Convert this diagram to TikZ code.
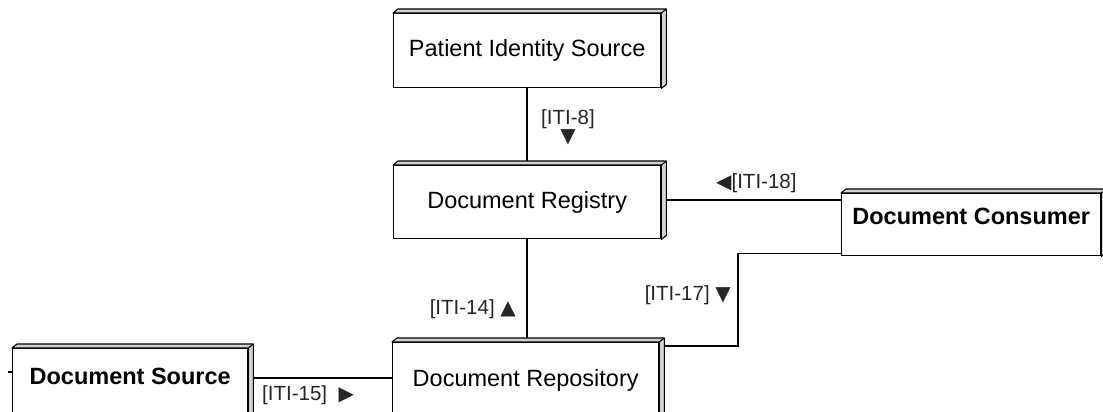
\documentclass[tikz,border=0pt]{standalone}
\usepackage{fontspec}
\setmainfont{Liberation Sans}
\newfontfamily\shapefont{DejaVu Sans}
\usetikzlibrary{calc}

% small direction marks set beside the transaction labels
\newcommand\dirmark[1]{{\shapefont\fontsize{20}{20}\selectfont #1}}
% shaded top and right faces that give each actor box its depth
\newcommand\boxdepth[1]{%
  \filldraw[face] (#1.north west) -- ++(5,-4) -- ($(#1.north east)+(5,-4)$)
    -- ($(#1.south east)+(5,-4)$) -- (#1.south east) -- (#1.north east) -- cycle;
  \draw[face] (#1.north east) -- ++(5,-4);
}

\begin{document}
\begin{tikzpicture}[x=1pt, y=-1pt,
  actor/.style={draw, line width=1.4pt, fill=white, inner sep=0pt,
    anchor=north west, font=\fontsize{23.5}{28}\selectfont},
  face/.style={line width=1.1pt, fill=gray!35, line join=round},
  link/.style={line width=1.5pt},
  tag/.style={inner sep=0pt, text=black!85, font=\fontsize{20.5}{24}\selectfont}]

\useasboundingbox (0,0) rectangle (1103,412);
\clip (0,0) rectangle (1103,412);

% actors
\node[actor, minimum width=267pt, minimum height=74pt] (pis) at (393,13)
  {Patient Identity Source};
\node[actor, minimum width=267pt, minimum height=73pt] (reg) at (393,165)
  {Document Registry};
\node[actor, font=\fontsize{23.5}{28}\selectfont\bfseries, minimum width=259pt,
  text height=30.5pt, text depth=31.5pt] (cons) at (841,193)
  {Document Consumer};
\node[actor, font=\fontsize{23.5}{28}\selectfont\bfseries, minimum width=235pt,
  text height=35.5pt, text depth=46.5pt] (src) at (12,348)
  {Document Source};
\node[actor, minimum width=266pt, text height=43.5pt, text depth=44pt] (repo) at (392,342)
  {Document Repository};

% connector end points on the box faces
\coordinate (r18) at ($(reg.east)+(5,-2)$);
\coordinate (c17) at ($(cons.south west)+(0,-3)$);
\coordinate (k17) at (738,300);
\coordinate (p17) at ($(repo.north east)+(5,4)$);
\coordinate (s15) at ($(src.north east)+(5,30)$);
\coordinate (s0a) at ($(src.north west)+(-4,24)$);
\coordinate (s0b) at ($(src.north west)+(0,24)$);

% transactions
\draw[link] (pis.south) -- (reg.north);
\draw[link] (reg.south) -- (reg.south |- repo.north);
\draw[link] (r18) -- (r18 -| cons.west);
\draw[link] (c17) -| (k17) |- (p17);
\draw[link] (s15) -- (s15 -| repo.west);
\draw[link] (s0a) -- (s0b);

\boxdepth{pis}
\boxdepth{reg}
\boxdepth{cons}
\boxdepth{src}
\boxdepth{repo}

% transaction labels
\node[tag, align=center] (t8) at (568,127) {[ITI-8]\\[-6pt]\dirmark{▼}};
\node[tag, anchor=west] (t18) at (716,183) {\dirmark{◀}[ITI-18]};
\node[tag, anchor=east] (t14) at (516,309) {[ITI-14] \dirmark{▲}};
\node[tag, anchor=east] (t17) at (731,295) {[ITI-17] \dirmark{▼}};
\node[tag, anchor=west] (t15) at (262,395) {[ITI-15] \ \dirmark{▶}};
\end{tikzpicture}
\end{document}
